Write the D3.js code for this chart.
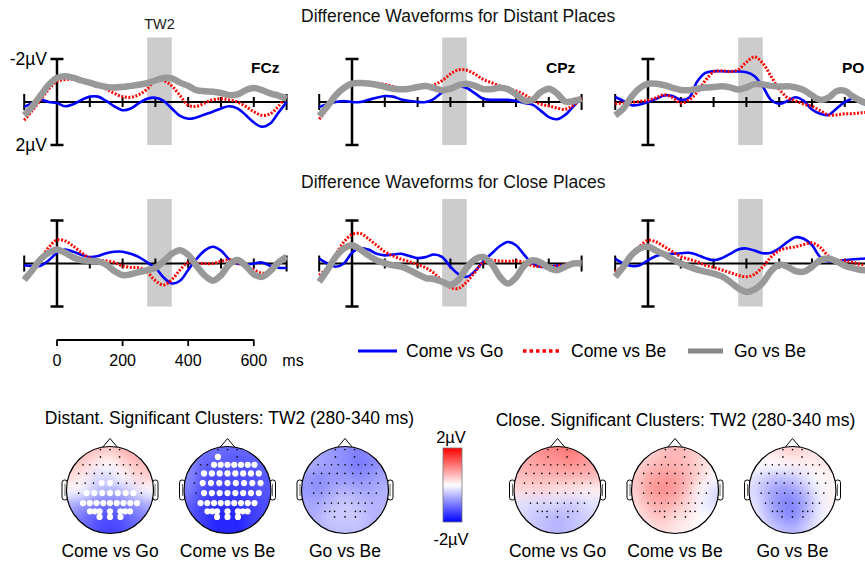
<!DOCTYPE html>
<html>
<head>
<meta charset="utf-8">
<script src="https://cdn.jsdelivr.net/npm/d3@7"></script>
<style>
body { margin: 0; background: #fff; }
svg { display: block; font-family: "Liberation Sans", Arial, sans-serif; }
</style>
</head>
<body>
<div id="container"></div>
<script>
var width = 865, height = 563;

// time points (ms) of the difference waves
var times = [-100,-75,-50,-25,0,25,50,75,100,125,150,175,200,225,250,275,300,325,350,375,400,425,450,475,500,525,550,575,600,625,650,675,700];
var xTicks = [-100,0,100,200,300,400,500,600,700];
var scaleBarTicks = [0,200,400,600];
var tw2 = [275, 350];
var electrodes = ["FCz", "CPz", "PO"];
var seriesNames = ["Come vs Go", "Come vs Be", "Go vs Be"];

// distant places (µV, negative up)
var farFCzComeGo = [0.23,0.05,-0.1,0.0,0.05,0.2,0.1,-0.1,-0.25,-0.25,-0.05,0.2,0.38,0.3,0.05,-0.15,-0.2,-0.05,0.3,0.65,0.78,0.72,0.58,0.45,0.3,0.2,0.3,0.6,0.95,1.15,1.0,0.5,0.0];
var farFCzComeBe = [0.85,0.4,-0.1,-0.6,-0.95,-1.05,-1.05,-1.0,-0.9,-0.8,-0.6,-0.4,-0.25,-0.22,-0.35,-0.6,-1.05,-1.0,-0.75,-0.3,0.15,0.2,0.05,-0.1,-0.15,-0.1,0.0,0.2,0.45,0.62,0.55,0.2,-0.3];
var farFCzGoBe = [0.62,0.2,-0.3,-0.8,-1.12,-1.2,-1.12,-1.0,-0.9,-0.78,-0.7,-0.67,-0.7,-0.75,-0.8,-0.88,-1.0,-1.12,-1.1,-0.9,-0.75,-0.55,-0.5,-0.48,-0.42,-0.32,-0.35,-0.55,-0.65,-0.55,-0.4,-0.3,-0.15];

var farCPzComeGo = [0.23,0.1,0.0,-0.05,0.0,0.0,-0.1,-0.2,-0.28,-0.25,-0.12,-0.05,0.0,0.0,-0.15,-0.45,-0.7,-0.75,-0.65,-0.4,-0.15,-0.1,-0.1,-0.1,-0.05,0.05,0.12,0.4,0.7,0.8,0.6,0.2,-0.2];
var farCPzComeBe = [0.8,0.3,-0.25,-0.7,-0.9,-0.92,-0.9,-0.88,-0.82,-0.72,-0.64,-0.62,-0.65,-0.72,-0.8,-1.0,-1.3,-1.5,-1.48,-1.3,-1.05,-0.9,-0.75,-0.6,-0.52,-0.35,-0.1,0.1,0.18,0.28,0.34,0.15,-0.2];
var farCPzGoBe = [0.65,0.2,-0.3,-0.65,-0.85,-0.88,-0.86,-0.8,-0.7,-0.62,-0.59,-0.62,-0.7,-0.74,-0.65,-0.55,-0.62,-0.78,-0.85,-0.75,-0.6,-0.6,-0.66,-0.6,-0.35,-0.08,-0.1,-0.45,-0.62,-0.4,-0.02,-0.05,-0.15];

var farPOComeGo = [-0.23,-0.05,0.15,0.12,0.0,-0.15,-0.3,-0.28,-0.1,-0.2,-0.95,-1.35,-1.43,-1.43,-1.42,-1.42,-1.38,-1.2,-0.72,-0.1,0.08,-0.05,-0.22,-0.05,0.35,0.55,0.6,0.3,0.0,-0.15,0.05,0.15,0.1];
var farPOComeBe = [0.08,0.05,0.02,-0.03,-0.08,-0.2,-0.34,-0.2,0.05,-0.1,-0.45,-1.0,-1.4,-1.45,-1.42,-1.5,-1.85,-2.1,-1.8,-1.2,-0.6,-0.2,-0.05,0.1,0.2,0.4,0.6,0.6,0.55,0.54,0.5,0.48,0.47];
var farPOGoBe = [0.62,0.3,-0.25,-0.65,-0.85,-0.85,-0.78,-0.66,-0.56,-0.55,-0.62,-0.67,-0.7,-0.73,-0.68,-0.58,-0.68,-0.83,-0.82,-0.75,-0.72,-0.73,-0.68,-0.55,-0.3,-0.1,-0.2,-0.5,-0.52,-0.25,-0.05,0.1,0.15];

// close places
var nearFCzComeGo = [0.08,0.12,0.1,-0.15,-0.5,-0.65,-0.55,-0.4,-0.3,-0.35,-0.48,-0.55,-0.55,-0.45,-0.3,-0.05,0.2,0.65,0.93,0.8,0.3,-0.2,-0.6,-0.78,-0.6,-0.2,0.0,0.05,0.0,-0.05,0.1,0.2,0.2];
var nearFCzComeBe = [0.62,0.3,-0.2,-0.75,-1.1,-1.05,-0.8,-0.5,-0.25,-0.15,-0.12,-0.05,0.12,0.18,0.2,0.4,0.8,1.0,0.75,0.3,-0.05,-0.02,0.0,0.0,-0.1,-0.18,-0.05,0.15,0.3,0.45,0.4,0.05,-0.3];
var nearFCzGoBe = [0.77,0.3,-0.2,-0.5,-0.65,-0.5,-0.28,-0.15,-0.12,-0.1,0.05,0.35,0.54,0.5,0.4,0.31,0.2,-0.1,-0.45,-0.62,-0.4,0.1,0.55,0.8,0.55,0.05,-0.16,0.1,0.5,0.62,0.35,-0.05,-0.31];

var nearCPzComeGo = [-0.23,0.0,0.15,0.0,-0.5,-0.72,-0.65,-0.45,-0.38,-0.42,-0.45,-0.35,-0.25,-0.3,-0.42,-0.3,0.15,0.5,0.62,0.35,-0.1,-0.45,-0.8,-1.0,-0.85,-0.4,0.0,0.15,0.15,0.1,0.08,0.05,-0.05];
var nearCPzComeBe = [0.54,0.2,-0.4,-1.0,-1.35,-1.4,-1.15,-0.85,-0.55,-0.35,-0.2,-0.08,0.05,0.2,0.45,0.8,1.12,1.15,0.85,0.4,-0.05,-0.15,-0.12,-0.1,-0.12,-0.05,0.1,0.15,0.15,0.12,0.05,0.0,-0.08];
var nearCPzGoBe = [0.85,0.3,-0.3,-0.7,-0.85,-0.65,-0.38,-0.15,-0.02,0.08,0.15,0.3,0.5,0.68,0.72,0.85,1.0,0.75,0.2,-0.2,-0.3,0.0,0.6,0.93,0.65,0.1,-0.15,-0.05,0.2,0.31,0.15,0.0,0.0];

var nearPOComeGo = [-0.23,0.0,0.12,0.08,-0.15,-0.35,-0.43,-0.45,-0.48,-0.5,-0.4,-0.25,-0.15,-0.25,-0.45,-0.65,-0.7,-0.6,-0.48,-0.5,-0.7,-1.0,-1.22,-1.15,-0.85,-0.3,-0.1,-0.12,-0.15,-0.2,-0.22,-0.25,-0.3];
var nearPOComeBe = [0.39,0.1,-0.35,-0.8,-1.08,-1.0,-0.78,-0.55,-0.32,-0.2,-0.08,0.08,0.18,0.3,0.42,0.55,0.62,0.5,0.15,-0.3,-0.6,-0.72,-0.78,-0.88,-0.96,-0.75,-0.35,-0.15,-0.12,-0.05,0.05,0.1,0.1];
var nearPOGoBe = [0.62,0.15,-0.4,-0.7,-0.78,-0.6,-0.42,-0.2,0.0,0.15,0.28,0.38,0.47,0.6,0.85,1.15,1.32,1.2,0.9,0.35,0.05,0.15,0.35,0.38,0.15,-0.15,-0.23,-0.1,0.1,0.22,0.3,0.32,0.33];

var farWaves = [[farFCzComeGo, farFCzComeBe, farFCzGoBe], [farCPzComeGo, farCPzComeBe, farCPzGoBe], [farPOComeGo, farPOComeBe, farPOGoBe]];
var nearWaves = [[nearFCzComeGo, nearFCzComeBe, nearFCzGoBe], [nearCPzComeGo, nearCPzComeBe, nearCPzGoBe], [nearPOComeGo, nearPOComeBe, nearPOGoBe]];

// topographies at TW2, 7x7 grid (rows front to back, columns left to right), µV
var mapGrid = [-0.9,-0.6,-0.3,0,0.3,0.6,0.9];
var topoFarComeGo = [
  [0.6,0.6,0.5,0.4,0.6,0.7,0.7],
  [0.5,0.4,0.1,0.0,0.3,0.5,0.5],
  [0.3,0.1,-0.3,-0.3,0.0,0.3,0.4],
  [0.0,-0.1,-0.5,-0.6,-0.5,-0.2,0.0],
  [-0.6,-0.8,-1.0,-1.1,-1.0,-0.8,-0.6],
  [-0.9,-1.1,-1.3,-1.4,-1.3,-1.1,-0.9],
  [-1.0,-1.2,-1.4,-1.5,-1.4,-1.2,-1.0]];
var topoFarComeBe = [
  [-1.0,-1.1,-1.1,-1.2,-1.2,-1.2,-1.1],
  [-0.9,-1.2,-1.3,-1.3,-1.4,-1.3,-1.2],
  [-0.9,-1.3,-1.4,-1.4,-1.4,-1.4,-1.3],
  [-1.0,-1.4,-1.5,-1.5,-1.5,-1.4,-1.3],
  [-1.2,-1.5,-1.6,-1.6,-1.6,-1.5,-1.4],
  [-1.3,-1.5,-1.7,-1.7,-1.7,-1.5,-1.4],
  [-1.3,-1.5,-1.7,-1.7,-1.7,-1.5,-1.4]];
var topoFarGoBe = [
  [-0.6,-0.7,-0.8,-0.9,-1.0,-0.9,-0.8],
  [-0.6,-0.7,-0.8,-0.9,-1.1,-1.0,-0.8],
  [-0.8,-0.9,-0.8,-0.8,-0.9,-0.8,-0.7],
  [-0.8,-0.9,-0.7,-0.6,-0.7,-0.7,-0.6],
  [-0.7,-0.7,-0.5,-0.4,-0.5,-0.6,-0.6],
  [-0.7,-0.6,-0.4,-0.4,-0.4,-0.6,-0.6],
  [-0.7,-0.6,-0.5,-0.5,-0.5,-0.6,-0.6]];
var topoNearComeGo = [
  [0.6,0.8,0.9,1.0,1.1,0.9,0.7],
  [0.6,0.7,0.8,0.8,0.9,0.8,0.7],
  [0.5,0.6,0.6,0.6,0.6,0.6,0.5],
  [0.3,0.3,0.3,0.2,0.2,0.1,0.1],
  [-0.2,-0.3,-0.3,-0.3,-0.4,-0.3,-0.2],
  [-0.3,-0.4,-0.5,-0.6,-0.5,-0.4,-0.3],
  [-0.3,-0.4,-0.5,-0.6,-0.5,-0.4,-0.3]];
var topoNearComeBe = [
  [0.2,0.3,0.5,0.6,0.5,0.3,0.2],
  [0.3,0.5,0.6,0.6,0.5,0.3,0.2],
  [0.4,0.7,0.8,0.8,0.6,0.3,0.0],
  [0.4,0.8,0.9,0.8,0.5,0.0,-0.3],
  [0.3,0.6,0.7,0.6,0.3,-0.1,-0.3],
  [0.2,0.4,0.5,0.3,0.2,0.0,-0.1],
  [0.1,0.2,0.3,0.2,0.1,0.0,0.0]];
var topoNearGoBe = [
  [0.1,0.2,0.3,0.4,0.3,0.2,0.2],
  [0.0,0.0,0.0,0.1,0.1,0.2,0.2],
  [-0.2,-0.4,-0.5,-0.4,-0.2,0.0,0.1],
  [-0.3,-0.6,-0.8,-0.8,-0.5,-0.1,0.1],
  [-0.2,-0.6,-0.9,-1.0,-0.7,-0.2,0.1],
  [-0.1,-0.5,-0.8,-1.0,-0.6,-0.2,0.0],
  [0.0,-0.3,-0.5,-0.6,-0.4,-0.1,0.0]];

// electrode layout (unit head radius) and significant-cluster masks
var electrodeRowY = [-0.93,-0.76,-0.58,-0.38,-0.16,0.07,0.30,0.49,0.62];
var electrodeRowX = [
  [-0.22,0,0.22],
  [-0.22,0.22],
  [-0.62,-0.465,-0.31,-0.155,0,0.155,0.31,0.465,0.62],
  [-0.72,-0.54,-0.36,-0.18,0,0.18,0.36,0.54,0.72],
  [-0.76,-0.57,-0.38,-0.19,0,0.19,0.38,0.57,0.76],
  [-0.72,-0.54,-0.36,-0.18,0,0.18,0.36,0.54,0.72],
  [-0.62,-0.465,-0.31,-0.155,0,0.155,0.31,0.465,0.62],
  [-0.46,-0.35,-0.24,0,0.24,0.35,0.46],
  [-0.24,0,0.24]];
var sigFarComeGo = ["000","00","000000000","000000000","000110000","011111110","111111111","1111111","111"];
var sigFarComeBe = ["000","10","001111111","011111111","011111111","011111111","111111111","1111111","111"];

var svg = d3.select("#container").append("svg")
    .attr("width", width)
    .attr("height", height);

svg.append("rect").attr("width", width).attr("height", height).attr("fill", "#fff");

var defs = svg.append("defs");
defs.append("filter").attr("id", "smooth")
    .attr("x", "-30%").attr("y", "-30%").attr("width", "160%").attr("height", "160%")
  .append("feGaussianBlur").attr("stdDeviation", 6);

var lineColors = ["#0000ff", "#ff0000", "#999999"];
var lineWidths = [2.6, 3, 6.5];
var lineDash = [null, "2,1.6", null];

// ---------- waveform panels ----------
var panelX = [57, 352, 648];
var rowBase = [102, 263.5];
var rowWaves = [farWaves, nearWaves];

rowBase.forEach(function(base, r) {
    panelX.forEach(function(x0, p) {
        var x = d3.scaleLinear().domain([-100, 700]).range([x0 - 32.8, x0 + 229.6]);
        var y = d3.scaleLinear().domain([-2, 2]).range([base - 43, base + 43]);
        var g = svg.append("g");

        // time window
        g.append("rect")
            .attr("x", x(tw2[0])).attr("width", x(tw2[1]) - x(tw2[0]))
            .attr("y", y(-3)).attr("height", y(2) - y(-3))
            .attr("fill", "#cccccc");

        // x axis through zero
        g.append("line")
            .attr("x1", x(-100)).attr("x2", x(700))
            .attr("y1", y(0)).attr("y2", y(0))
            .attr("stroke", "#000").attr("stroke-width", 2);
        g.selectAll(".tick").data(xTicks).enter().append("line")
            .attr("x1", d => x(d)).attr("x2", d => x(d))
            .attr("y1", d => y(0) - (d == -100 || d == 700 ? 8 : 5))
            .attr("y2", d => y(0) + (d == -100 || d == 700 ? 8 : 5))
            .attr("stroke", "#000").attr("stroke-width", 2);

        // y scale bar
        g.append("line")
            .attr("x1", x(0)).attr("x2", x(0)).attr("y1", y(-2)).attr("y2", y(2))
            .attr("stroke", "#000").attr("stroke-width", 2.5);
        [-2, 2].forEach(function(v) {
            g.append("line")
                .attr("x1", x(0) - 6.5).attr("x2", x(0) + 6.5).attr("y1", y(v)).attr("y2", y(v))
                .attr("stroke", "#000").attr("stroke-width", 2.5);
        });

        var line = d3.line()
            .x((d, i) => x(times[i]))
            .y(d => y(d))
            .curve(d3.curveCatmullRom.alpha(0.5));

        rowWaves[r][p].forEach(function(vals, s) {
            g.append("path")
                .datum(vals)
                .attr("d", line)
                .attr("fill", "none")
                .attr("stroke", lineColors[s])
                .attr("stroke-width", lineWidths[s])
                .attr("stroke-dasharray", lineDash[s])
                .attr("stroke-linejoin", "round");
        });

        if (r == 0) {
            g.append("text")
                .attr("x", x0 + 194).attr("y", 73)
                .attr("font-size", 15.5).attr("font-weight", "bold")
                .text(electrodes[p]);
        }
        if (r == 0 && p == 0) {
            g.append("text")
                .attr("x", (x(tw2[0]) + x(tw2[1])) / 2).attr("y", 29)
                .attr("text-anchor", "middle").attr("font-size", 14.5).attr("fill", "#222")
                .text("TW2");
            g.append("text").attr("x", 47).attr("y", y(-2) + 6)
                .attr("text-anchor", "end").attr("font-size", 17.5).text("-2µV");
            g.append("text").attr("x", 47).attr("y", y(2) + 6)
                .attr("text-anchor", "end").attr("font-size", 17.5).text("2µV");
        }
    });
});

svg.append("text").attr("x", 301).attr("y", 22).attr("font-size", 17.5).attr("fill", "#111")
    .text("Difference Waveforms for Distant Places");
svg.append("text").attr("x", 301).attr("y", 187.5).attr("font-size", 17.5).attr("fill", "#111")
    .text("Difference Waveforms for Close Places");

// ---------- time scale bar ----------
var xs = d3.scaleLinear().domain([-100, 700]).range([57 - 32.8, 57 + 229.6]);
var sb = svg.append("g");
sb.append("line").attr("x1", xs(0)).attr("x2", xs(600)).attr("y1", 340).attr("y2", 340)
    .attr("stroke", "#000").attr("stroke-width", 1.8);
sb.selectAll(".sbt").data(scaleBarTicks).enter().append("line")
    .attr("x1", d => xs(d)).attr("x2", d => xs(d)).attr("y1", 339.5).attr("y2", 346)
    .attr("stroke", "#000").attr("stroke-width", 1.8);
sb.selectAll(".sbl").data(scaleBarTicks).enter().append("text")
    .attr("x", d => xs(d)).attr("y", 366).attr("text-anchor", "middle").attr("font-size", 16)
    .text(d => d);
sb.append("text").attr("x", 293).attr("y", 366).attr("text-anchor", "middle").attr("font-size", 16).text("ms");

// ---------- legend ----------
var legendX = [358, 523, 688];
var legendLen = [39, 39, 35];
var legendStroke = [3.2, 3.4, 5];
var legendColors = ["#0000ff", "#ff0000", "#888888"];
var legendDash = [null, "3.5,3", null];
var leg = svg.append("g");
seriesNames.forEach(function(name, i) {
    leg.append("line").attr("x1", legendX[i]).attr("x2", legendX[i] + legendLen[i])
        .attr("y1", 351).attr("y2", 351)
        .attr("stroke", legendColors[i]).attr("stroke-width", legendStroke[i])
        .attr("stroke-dasharray", legendDash[i]);
    leg.append("text").attr("x", legendX[i] + legendLen[i] + (i == 2 ? 11 : 9)).attr("y", 357)
        .attr("font-size", 17.5).text(name);
});

// ---------- topographic maps ----------
var color = d3.scaleLinear().domain([-2, 0, 2]).range(["#0000ff", "#ffffff", "#ff0000"]).clamp(true);
var headX = [110, 227.5, 345, 557.5, 675, 792.5];
var headY = 490, headR = 43.5;
var headMaps = [topoFarComeGo, topoFarComeBe, topoFarGoBe, topoNearComeGo, topoNearComeBe, topoNearGoBe];
var headSig = [sigFarComeGo, sigFarComeBe, null, null, null, null];

headMaps.forEach(function(grid, h) {
    var cx = headX[h], cy = headY, r = headR;
    var g = svg.append("g");

    // ears and nose
    [-1, 1].forEach(function(side) {
        g.append("rect")
            .attr("x", side < 0 ? cx - r - 4.5 : cx + r - 1).attr("y", cy - 10)
            .attr("width", 5.5).attr("height", 20).attr("rx", 2.5)
            .attr("fill", "#fff").attr("stroke", "#000").attr("stroke-width", 1);
        g.append("line")
            .attr("x1", cx + side * (r + 1.5)).attr("x2", cx + side * (r + 1.5))
            .attr("y1", cy - 6).attr("y2", cy + 6)
            .attr("stroke", "#000").attr("stroke-width", 0.6);
    });
    g.append("path")
        .attr("d", "M" + (cx - 8) + "," + (cy - r + 1.5) + "L" + cx + "," + (cy - r - 8) + "L" + (cx + 8) + "," + (cy - r + 1.5) + "Z")
        .attr("fill", "#fff").attr("stroke", "#000").attr("stroke-width", 1);

    defs.append("clipPath").attr("id", "head" + h)
        .append("circle").attr("cx", cx).attr("cy", cy).attr("r", r);

    var clip = g.append("g").attr("clip-path", "url(#head" + h + ")");
    clip.append("circle").attr("cx", cx).attr("cy", cy).attr("r", r).attr("fill", "#fff");
    var cells = clip.append("g").attr("filter", "url(#smooth)");
    grid.forEach(function(row, i) {
        row.forEach(function(v, j) {
            var gx0 = j == 0 ? -1.6 : mapGrid[j] - 0.15, gx1 = j == 6 ? 1.6 : mapGrid[j] + 0.15;
            var gy0 = i == 0 ? -1.6 : mapGrid[i] - 0.15, gy1 = i == 6 ? 1.6 : mapGrid[i] + 0.15;
            cells.append("rect")
                .attr("x", cx + gx0 * r).attr("y", cy + gy0 * r)
                .attr("width", (gx1 - gx0) * r + 0.5).attr("height", (gy1 - gy0) * r + 0.5)
                .attr("fill", color(v));
        });
    });

    g.append("circle").attr("cx", cx).attr("cy", cy).attr("r", r)
        .attr("fill", "none").attr("stroke", "#000").attr("stroke-width", 1.2);

    // electrodes
    electrodeRowX.forEach(function(row, i) {
        row.forEach(function(ex, j) {
            var sig = headSig[h] && headSig[h][i][j] == "1";
            g.append("circle")
                .attr("cx", cx + ex * r).attr("cy", cy + electrodeRowY[i] * r)
                .attr("r", sig ? 3.1 : 0.85)
                .attr("fill", sig ? "#fff" : "#111");
        });
    });

    g.append("text").attr("x", cx).attr("y", 557).attr("text-anchor", "middle")
        .attr("font-size", 17.5).text(seriesNames[h % 3]);
});

svg.append("text").attr("x", 229.5).attr("y", 424).attr("text-anchor", "middle").attr("font-size", 17.5)
    .text("Distant. Significant Clusters: TW2 (280-340 ms)");
svg.append("text").attr("x", 675.5).attr("y", 426).attr("text-anchor", "middle").attr("font-size", 17.5)
    .text("Close. Significant Clusters: TW2 (280-340 ms)");

// colour bar
var grad = defs.append("linearGradient").attr("id", "cbar")
    .attr("x1", 0).attr("y1", 0).attr("x2", 0).attr("y2", 1);
[2, 0, -2].forEach(function(v, i) {
    grad.append("stop").attr("offset", (i * 50) + "%").attr("stop-color", color(v));
});
svg.append("rect").attr("x", 443).attr("y", 448).attr("width", 19).attr("height", 74)
    .attr("fill", "url(#cbar)").attr("stroke", "#777").attr("stroke-width", 0.8);
svg.append("text").attr("x", 451).attr("y", 443).attr("text-anchor", "middle").attr("font-size", 16.5).text("2µV");
svg.append("text").attr("x", 451).attr("y", 545).attr("text-anchor", "middle").attr("font-size", 16.5).text("-2µV");
</script>
</body>
</html>
